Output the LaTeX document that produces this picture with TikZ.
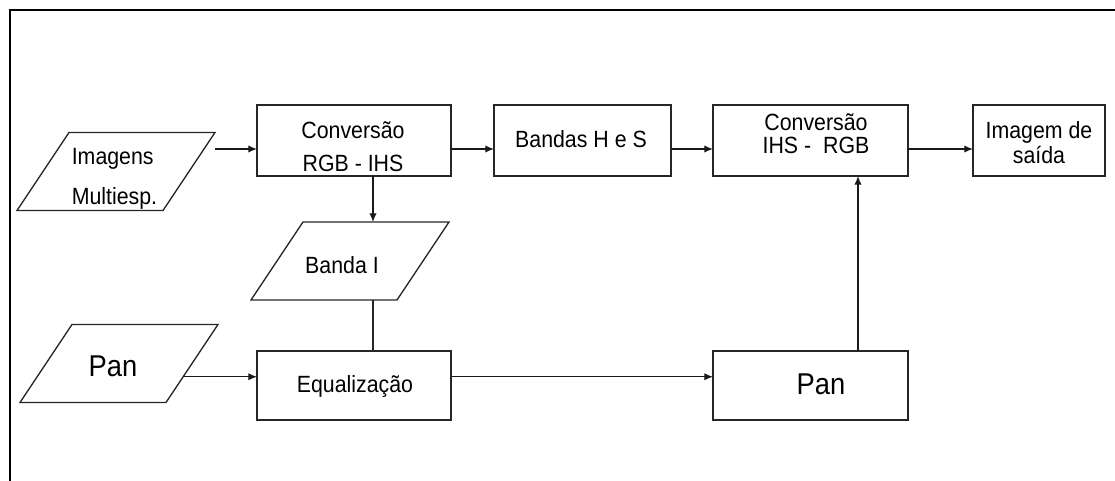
\documentclass[tikz,border=0pt]{standalone}
\usepackage{fontspec}
\usepackage{graphicx}
\setmainfont{Liberation Sans}
\usetikzlibrary{arrows.meta,calc}

% text block, slightly stretched vertically
\newcommand\tallc[1]{\scalebox{1}[1.1]{\begin{tabular}{@{}c@{}}#1\end{tabular}}}
\newcommand\talll[1]{\scalebox{1}[1.1]{\begin{tabular}{@{}l@{}}#1\end{tabular}}}

% parallelogram outline around a (body-sized) rectangle node, with named corners
\newcommand\parashape[1]{%
  \coordinate (#1-bl) at ($(#1.south west)+(-26,0)$);
  \coordinate (#1-tl) at ($(#1.north west)+(26,0)$);
  \coordinate (#1-tr) at ($(#1.north east)+(26,0)$);
  \coordinate (#1-br) at ($(#1.south east)+(-26,0)$);
  \draw[link] (#1-bl) -- (#1-tl) -- (#1-tr) -- (#1-br) -- cycle;}

\begin{document}
\begin{tikzpicture}[x=0.75pt,y=-0.75pt,
  every node/.style={outer sep=0pt, inner sep=0pt},
  box/.style={draw=black!85, line width=0.95pt, rectangle, minimum height=53.25pt},
  lowbox/.style={draw=black!85, line width=0.95pt, rectangle, minimum height=51.75pt},
  parabox/.style={rectangle, minimum width=109.5pt, minimum height=58.5pt},
  txt/.style={font=\fontsize{16}{22.5}\selectfont, text=black},
  big/.style={font=\fontsize{20.5}{24}\selectfont, text=black},
  arr/.style={draw=black!90, line width=0.95pt, -{Latex[length=6.5pt,width=5.5pt]}},
  link/.style={draw=black!85, line width=0.95pt, line join=miter},
  frame/.style={line width=1.5pt}]

\useasboundingbox (0,0) rectangle (1115,481);

% outer frame (top and left edges)
\draw[frame] (9.5,481) -- (9.5,10) -- (1115,10);

% upper row of process boxes
\node[box, minimum width=145.5pt]  (c1)  at (354,140.5)  {};
\node[box, minimum width=132.75pt] (bhs) at (582.5,140.5) {};
\node[box, minimum width=146.25pt] (c2)  at (810.5,140.5) {};
\node[box, minimum width=99pt]     (out) at (1039,140.5) {};

% lower row of process boxes
\node[lowbox, minimum width=145.5pt]  (eq)   at (354,385.5)   {};
\node[lowbox, minimum width=146.25pt] (pan2) at (810.5,385.5) {};

% data (parallelogram) nodes
\node[parabox] (im)   at (116,171.5) {};
\node[parabox] (bI)   at (350,261)   {};
\node[parabox] (pan1) at (119,363.5) {};
\parashape{im}
\parashape{bI}
\parashape{pan1}

% labels
\node[txt] (im-t) at (114.5,178) {\talll{Imagens\\[4.5pt]Multiesp.}};
\node[txt] (c1-t)  at (353,148.5)  {\tallc{Conversão\\RGB - IHS}};
\node[txt] (bhs-t) at (581,141)    {\tallc{Bandas H e S}};
\node[txt, font=\fontsize{16}{15}\selectfont] (c2-t) at (816,136.5) {\tallc{Conversão\\IHS -~ RGB}};
\node[txt, font=\fontsize{16}{16.5}\selectfont] (out-t) at (1039,146) {\tallc{Imagem de\\saída}};
\node[txt] (bI-t)  at (342,266.5)  {\tallc{Banda I}};
\node[txt] (eq-t)  at (355,386)    {\tallc{Equalização}};
\node[big] (pan1-t) at (113,369)   {\tallc{Pan}};
\node[big] (pan2-t) at (821,387)   {\tallc{Pan}};

% guide coordinates for the connector rows and columns
\coordinate (row1) at (0,149);
\coordinate (col1) at (373,0);
\coordinate (col2) at (858,0);
\coordinate (p1) at ($(pan1-tr)!0.67!(pan1-br)$);

% connectors
\draw[arr] (im-tr |- row1) -- (c1.west |- row1);
\draw[arr] (c1.east |- row1) -- (bhs.west |- row1);
\draw[arr] (bhs.east |- row1) -- (c2.west |- row1);
\draw[arr] (c2.east |- row1) -- (out.west |- row1);
\draw[arr] (c1.south -| col1) -- (bI.north -| col1);
\draw[link] (bI.south -| col1) -- (eq.north -| col1);
\draw[arr] (p1) -- (eq.west |- p1);
\draw[arr] (eq.east |- p1) -- (pan2.west |- p1);
\draw[arr] (pan2.north -| col2) -- (c2.south -| col2);
\end{tikzpicture}
\end{document}
